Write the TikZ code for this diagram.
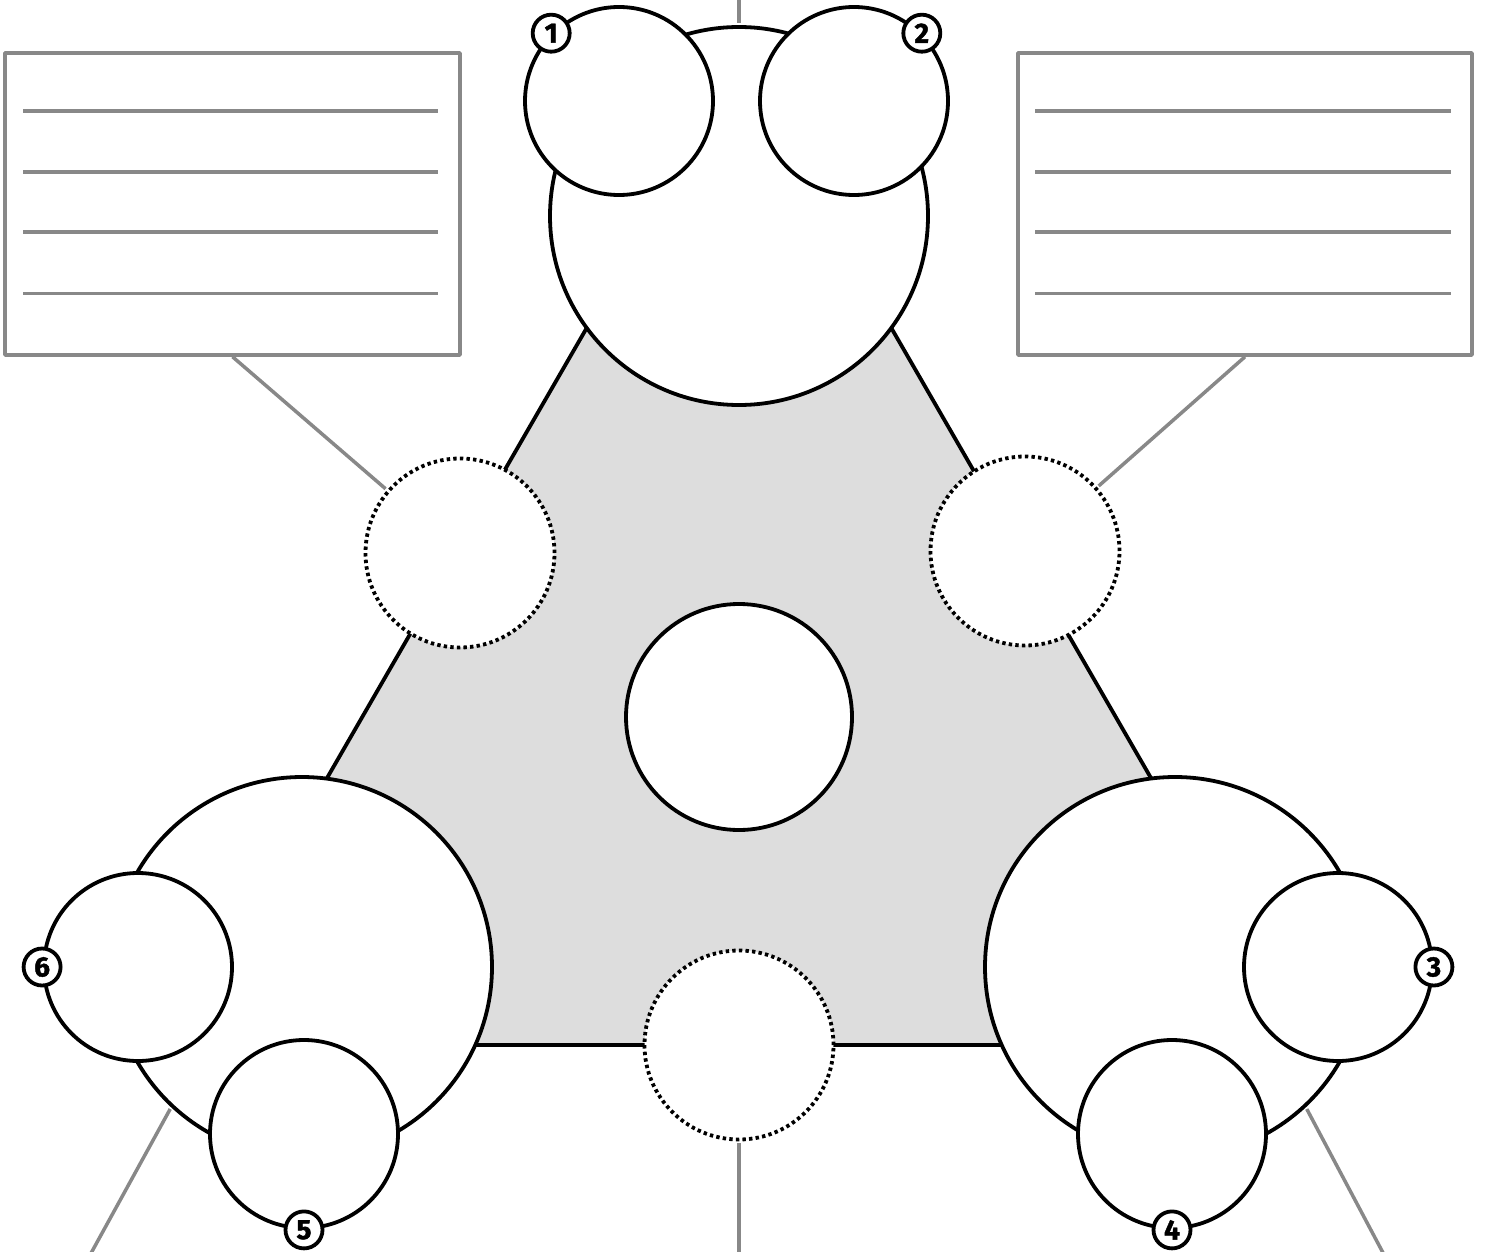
\documentclass[tikz,border=0pt]{standalone}
\usepackage{fontspec}
\newfontfamily\labelfont{Fira Sans}[FakeBold=1.5]
\usetikzlibrary{calc}
\definecolor{tri}{HTML}{DDDDDD}
\definecolor{conn}{HTML}{888888}
\tikzset{
  ring/.style={circle, draw=black, fill=white, line width=3.8pt, inner sep=0pt, minimum size=#1},
  dotring/.style={circle, draw=black, fill=white, line width=3.8pt, inner sep=0pt, minimum size=#1, dash pattern=on 3.4pt off 3.2pt},
  numtag/.style={circle, draw=black, fill=white, line width=3.8pt, inner sep=0pt, minimum size=37pt, font=\labelfont\bfseries\fontsize{28}{28}\selectfont},
  notebox/.style={rectangle, draw=conn, fill=white, line width=3.5pt, minimum width=455pt, minimum height=302pt, inner sep=0pt, line join=round},
  noteline/.style={draw=conn, line width=3.5pt},
  link/.style={draw=conn, line width=3.5pt},
}
\begin{document}
\begin{tikzpicture}[x=1pt,y=-1pt]
\clip (0,0) rectangle (1486,1252);
\fill[white] (0,0) rectangle (1486,1252);
% shaded triangle
\draw[fill=tri, line width=3.8pt, line join=round] (173,1045) -- (1305,1045) -- (739,64) -- cycle;
% big circles
\node[ring=378pt] (top) at (739,216) {};
\node[ring=380pt] (bl) at (302,967) {};
\node[ring=380pt] (br) at (1175,967) {};
\node[ring=226pt] (mid) at (739,717) {};
% small circles
\node[ring=188pt] (c1) at (619,101) {};
\node[ring=188pt] (c2) at (854,101) {};
\node[ring=188pt] (c3) at (1338,967) {};
\node[ring=188pt] (c4) at (1172,1134) {};
\node[ring=188pt] (c5) at (304,1134) {};
\node[ring=188pt] (c6) at (138,967) {};
% dotted circles
\node[dotring=189pt] (dl) at (460,553) {};
\node[dotring=189pt] (dr) at (1025,551) {};
\node[dotring=189pt] (db) at (739,1045) {};
% number tags
\node[numtag] (n1) at (c1.135) {1};
\node[numtag] (n2) at (c2.45) {2};
\node[numtag] (n3) at (c3.0) {3};
\node[numtag] (n4) at (c4.270) {4};
\node[numtag] (n5) at (c5.270) {5};
\node[numtag] (n6) at (c6.180) {6};
% note boxes
\node[notebox] (lbox) at (232.5,204) {};
\node[notebox, minimum width=454pt] (rbox) at (1245,204) {};
\foreach \dy in {60,121,181,242} {
  \draw[noteline] ($(lbox.north west)+(20,\dy)$) -- ($(lbox.north west)+(435,\dy)$);
  \draw[noteline] ($(rbox.north west)+(19,\dy)$) -- ($(rbox.north west)+(435,\dy)$);
}
% free ends
\coordinate (topend) at (739,-5);
\coordinate (botend) at (739,1262);
\coordinate (blend) at (84,1266);
\coordinate (brend) at (1390,1266);
% connectors
\draw[link, shorten >=1.9pt] (topend) -- (top);
\draw[link, shorten <=1.9pt] (db) -- (botend);
\draw[link, shorten >=1.9pt] (lbox.south) -- (dl);
\draw[link, shorten >=1.9pt] (rbox.south) -- (dr);
\draw[link, shorten <=1.9pt] (bl.227) -- (blend);
\draw[link, shorten <=1.9pt] (br.313) -- (brend);
\end{tikzpicture}
\end{document}
